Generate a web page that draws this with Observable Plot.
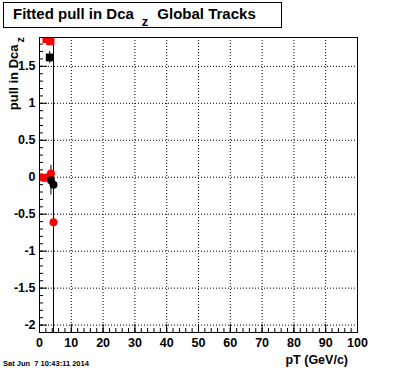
<!DOCTYPE html>
<html><head><meta charset="utf-8">
<script src="https://cdn.jsdelivr.net/npm/d3@7"></script>
<script src="https://cdn.jsdelivr.net/npm/@observablehq/plot@0.6"></script>
<style>body{margin:0;background:#fff}</style>
</head><body><div id="chart"></div>
<script>
// Tick positions & labels
const xTicks = [0, 10, 20, 30, 40, 50, 60, 70, 80, 90, 100];
const xTickLabels = ["0", "10", "20", "30", "40", "50", "60", "70", "80", "90", "100"];
const xGrid = [10, 20, 30, 40, 50, 60, 70, 80, 90];
const yTicks = [-2, -1.5, -1, -0.5, 0, 0.5, 1, 1.5];
const yTickLabels = ["-2", "-1.5", "-1", "-0.5", "0", "0.5", "1", "1.5"];
const xMinor = d3.range(0, 100.001, 2);
const yMinor = d3.range(-21, 19, 1).map(v => v / 10);

// Series: red circles
const redCircleX = [0.5, 1.5, 2.5, 3.6, 4.4];
const redCircleY = [0.0, -0.01, 0.0, 0.05, -0.61];
// red squares (top, clipped)
const redSquareX = [2.2, 3.4];
const redSquareY = [1.87, 1.84];
// black squares
const blackSquareX = [3.2];
const blackSquareY = [1.62];
const blackSquareErr = [0.08];
// black circles
const blackCircleX = [3.6, 4.4];
const blackCircleY = [-0.04, -0.1];
const blackCircleErr = [0.2, 5];

const zip = (xs, ys, es) => xs.map((x, i) => ({x, y: ys[i], e: es ? es[i] : 0}));
const redC = zip(redCircleX, redCircleY);
const redS = zip(redSquareX, redSquareY);
const blackS = zip(blackSquareX, blackSquareY, blackSquareErr);
const blackC = zip(blackCircleX, blackCircleY, blackCircleErr);

const svg = Plot.plot({
  width: 396, height: 372,
  marginLeft: 39, marginRight: 39, marginTop: 37, marginBottom: 40,
  style: {fontFamily: "'Liberation Sans', Arial, Helvetica, sans-serif", fontSize: "12px", fontWeight: "bold", background: "white", color: "black"},
  x: {domain: [0, 100]},
  y: {domain: [-2.1, 1.89]},
  marks: [
    Plot.gridX({ticks: xGrid, stroke: "black", strokeOpacity: 1, strokeDasharray: "1,2"}),
    Plot.gridY({ticks: yTicks, stroke: "black", strokeOpacity: 1, strokeDasharray: "1,2"}),
    Plot.axisX({ticks: xTicks, tickSize: 0, tickPadding: 6, tickFormat: (d, i) => xTickLabels[i], label: null, fontSize: 12.5}),
    Plot.axisX({ticks: xTicks, tickSize: -8, tickFormat: () => "", label: null}),
    Plot.axisX({ticks: xMinor, tickSize: -4, tickFormat: () => "", label: null}),
    Plot.axisY({ticks: yTicks, tickSize: 0, tickPadding: 4, tickFormat: (d, i) => yTickLabels[i], label: null, fontSize: 12.5}),
    Plot.axisY({ticks: yTicks, tickSize: -8, tickFormat: () => "", label: null}),
    Plot.axisY({ticks: yMinor, tickSize: -4, tickFormat: () => "", label: null}),
    Plot.ruleX(blackS, {x: "x", y1: d => d.y - d.e, y2: d => d.y + d.e, stroke: "black", clip: true}),
    Plot.ruleX(blackC, {x: "x", y1: d => d.y - d.e, y2: d => d.y + d.e, stroke: "black", clip: true}),
    Plot.dot(redS, {x: "x", y: "y", symbol: "square", r: 4.6, fill: "red", stroke: "none", clip: true}),
    Plot.dot(redC, {x: "x", y: "y", r: 4, fill: "red", stroke: "none", clip: true}),
    Plot.dot(blackS, {x: "x", y: "y", symbol: "square", r: 4.4, fill: "black", stroke: "none", clip: true}),
    Plot.dot(blackC, {x: "x", y: "y", r: 4, fill: "black", stroke: "none", clip: true}),
    Plot.frame({stroke: "black", strokeWidth: 1})
  ]
});

const s = d3.select(svg);
const font = "'Liberation Sans', Arial, Helvetica, sans-serif";
// Title box
s.append("rect").attr("x", 3.5).attr("y", 2.5).attr("width", 278).attr("height", 25)
  .attr("fill", "white").attr("stroke", "black").attr("stroke-width", 1);
const t = s.append("text").attr("x", 13).attr("y", 19).attr("text-anchor", "start")
  .attr("font-family", font).attr("font-size", 15).attr("font-weight", "bold").attr("fill", "black");
t.append("tspan").text("Fitted pull in Dca");
t.append("tspan").attr("dx", 8).attr("dy", 7).attr("font-size", 13).text("z");
t.append("tspan").attr("dx", 9).attr("dy", -7).text("Global Tracks");

// Y axis label
const yl = s.append("text").attr("transform", "translate(18,37) rotate(-90)")
  .attr("text-anchor", "end").attr("font-family", font).attr("font-size", 13)
  .attr("font-weight", "bold").attr("fill", "black");
yl.append("tspan").text("pull in Dca");
yl.append("tspan").attr("dx", 2).attr("dy", 6).attr("font-size", 11).text("z");

// X axis label
s.append("text").attr("x", 348).attr("y", 364).attr("text-anchor", "end")
  .attr("font-family", font).attr("font-size", 12.5).attr("font-weight", "bold")
  .attr("fill", "black").text("pT (GeV/c)");

// Date stamp
s.append("text").attr("x", 3).attr("y", 366).attr("text-anchor", "start").attr("font-family", font)
  .attr("font-size", 7.5).attr("font-weight", "bold").attr("fill", "black")
  .attr("xml:space", "preserve").style("white-space", "pre")
  .text("Sat Jun  7 10:43:11 2014");

document.getElementById("chart").appendChild(svg);
</script>
</body></html>
